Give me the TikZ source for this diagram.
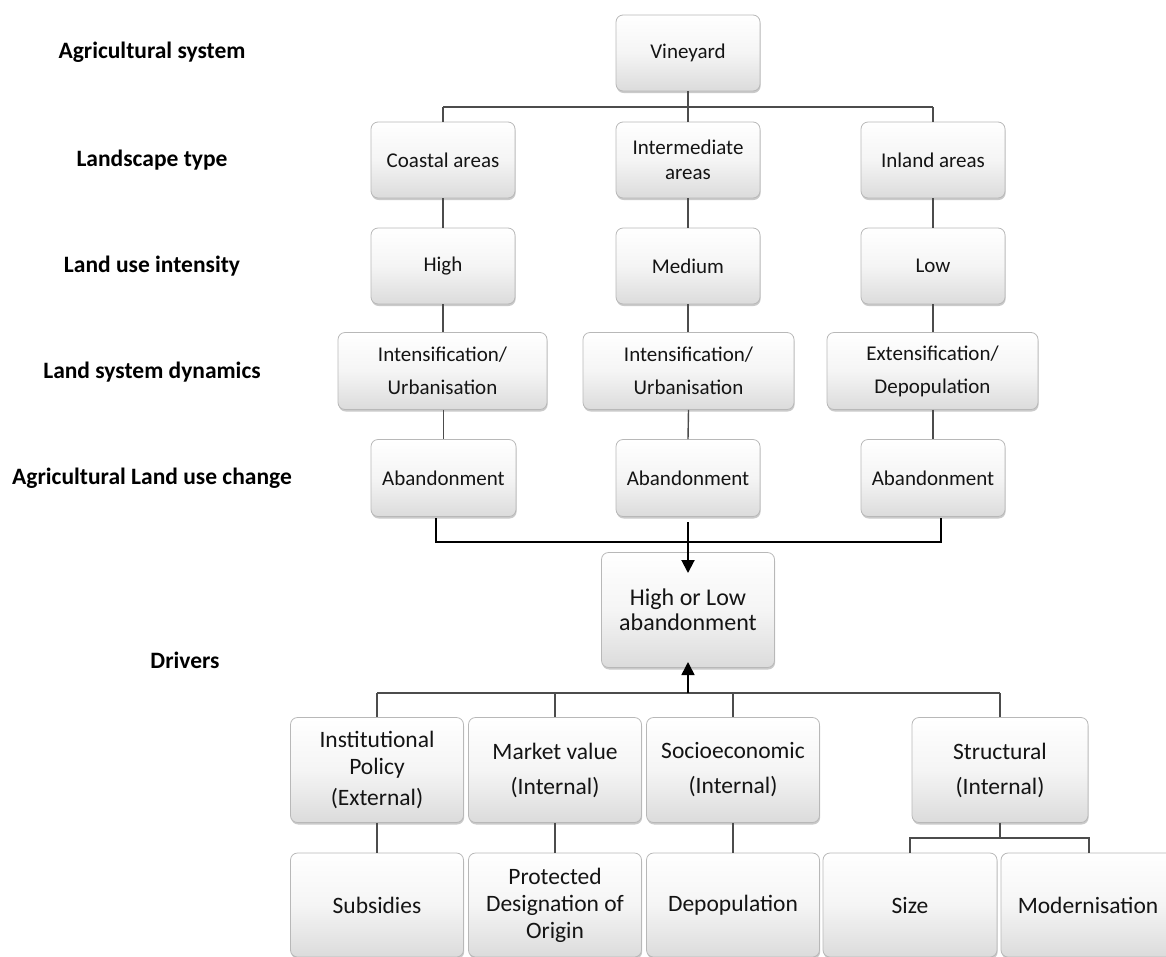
\documentclass[tikz,border=0pt]{standalone}
\usepackage{fontspec}
\setmainfont{Carlito}
\usetikzlibrary{shadows,arrows.meta}
\begin{document}
\begin{tikzpicture}[x=1pt,y=-1pt,
  box/.style={draw=black!28, line width=0.8pt, rounded corners=7pt,
    top color=white, bottom color=black!14, middle color=white!96!black,
    drop shadow={opacity=0.35, shadow xshift=0.6pt, shadow yshift=-2pt, fill=black!60},
    inner sep=0pt, align=center, text=black!92},
  small/.style={box, font=\fontsize{21}{25}\selectfont},
  big/.style={box, font=\fontsize{23.5}{27}\selectfont},
  lab/.style={font=\bfseries\fontsize{23.5}{27}\selectfont, text=black, inner sep=0pt},
  conn/.style={draw=black!70, line width=1.4pt},
  thick/.style={draw=black, line width=2.6pt},
  arr/.style={draw=black, line width=2pt, -{Triangle[length=13pt,width=13pt]}}
]
\useasboundingbox (0,0) rectangle (1166,956);

% left labels
\node[lab] (l1) at (152,52) {Agricultural system};
\node[lab] (l2) at (152,160) {Landscape type};
\node[lab] (l3) at (152,266) {Land use intensity};
\node[lab] (l4) at (152,372) {Land system dynamics};
\node[lab] (l5) at (152,478) {Agricultural Land use change};
\node[lab] (l6) at (185,660) {Drivers};

% top tree
\node[small, minimum width=144pt, minimum height=76pt] (vine) at (688,53) {Vineyard};
\node[small, minimum width=144pt, minimum height=76pt] (coast) at (443,160) {Coastal areas};
\node[small, minimum width=144pt, minimum height=76pt] (inter) at (688,160) {Intermediate\\areas};
\node[small, minimum width=144pt, minimum height=76pt] (inland) at (933,160) {Inland areas};

\node[small, minimum width=144pt, minimum height=76pt] (high) at (443,266) {High};
\node[small, minimum width=144pt, minimum height=76pt] (med) at (688,266) {Medium};
\node[small, minimum width=144pt, minimum height=76pt] (low) at (933,266) {Low};

\node[small, minimum width=209pt, minimum height=77pt, font=\fontsize{21}{33}\selectfont] (dyn1) at (442.5,371) {Intensification/\\Urbanisation};
\node[small, minimum width=211pt, minimum height=77pt, font=\fontsize{21}{33}\selectfont] (dyn2) at (688.5,371) {Intensification/\\Urbanisation};
\node[small, minimum width=211pt, minimum height=77pt, font=\fontsize{21}{33}\selectfont] (dyn3) at (932.5,371) {Extensification/\\Depopulation};

\node[small, minimum width=145pt, minimum height=77pt] (ab1) at (443.5,478) {Abandonment};
\node[small, minimum width=144pt, minimum height=77pt] (ab2) at (688,478) {Abandonment};
\node[small, minimum width=144pt, minimum height=77pt] (ab3) at (933,478) {Abandonment};

% outcome
\node[big, minimum width=173pt, minimum height=115pt, font=\fontsize{24}{25}\selectfont] (hl) at (688,610) {High or Low\\abandonment};

% drivers
\node[big, minimum width=173pt, minimum height=105pt, font=\fontsize{23.5}{31}\selectfont] (inst) at (377,770) {Institutional\\[-4pt]Policy\\(External)};
\node[big, minimum width=173pt, minimum height=105pt, font=\fontsize{23.5}{35}\selectfont] (market) at (555,770) {Market value\\(Internal)};
\node[big, minimum width=173pt, minimum height=105pt, font=\fontsize{23.5}{35}\selectfont] (socio) at (733,770) {Socioeconomic\\(Internal)};
\node[big, minimum width=176pt, minimum height=105pt, font=\fontsize{23.5}{35}\selectfont] (struct) at (1000,770) {Structural\\(Internal)};

% bottom row
\node[big, minimum width=173pt, minimum height=104pt] (sub) at (377,905) {Subsidies};
\node[big, minimum width=173pt, minimum height=104pt, font=\fontsize{23.5}{27}\selectfont] (pdo) at (555,905) {Protected\\Designation of\\Origin};
\node[big, minimum width=173pt, minimum height=104pt] (depop) at (733,905) {Depopulation};
\node[big, minimum width=174pt, minimum height=104pt] (size) at (910,905) {Size};
\node[big, minimum width=174pt, minimum height=104pt] (mod) at (1088,905) {Modernisation};

% connectors top
\coordinate (t1) at (443,107);
\coordinate (t3) at (933,107);
\draw[conn] (vine.south) -- (inter.north);
\draw[conn] (t1) -- (t3);
\draw[conn] (t1) -- (coast.north);
\draw[conn] (t3) -- (inland.north);
\draw[conn] (coast.south) -- (high.north);
\draw[conn] (inter.south) -- (med.north);
\draw[conn] (inland.south) -- (low.north);
\draw[conn] (high.south) -- (high.south |- dyn1.north);
\draw[conn] (med.south) -- (med.south |- dyn2.north);
\draw[conn] (low.south) -- (low.south |- dyn3.north);
\draw[conn] (ab1.north |- dyn1.south) -- (ab1.north);
\draw[conn] (dyn2.south) -- (ab2.north);
\draw[conn] (ab3.north |- dyn3.south) -- (ab3.north);

% bracket and arrows
\coordinate (b1) at (436,542);
\coordinate (b3) at (941,542);
\coordinate (bm) at (688,522);
\coordinate (ht) at (688,573);
\draw[thick] (436,518) -- (b1) -- (b3) -- (941,518);
\draw[arr] (bm) -- (ht);

\coordinate (d0) at (688,693);
\coordinate (hb) at (688,662);
\draw[conn] (377,693) -- (1000,693);
\draw[arr, line width=1.6pt] (d0) -- (hb);
\draw[conn] (inst.north |- d0) -- (inst.north);
\draw[conn] (market.north |- d0) -- (market.north);
\draw[conn] (socio.north |- d0) -- (socio.north);
\draw[conn] (struct.north |- d0) -- (struct.north);

\draw[conn] (inst.south) -- (sub.north);
\draw[conn] (market.south) -- (pdo.north);
\draw[conn] (socio.south) -- (depop.north);
\coordinate (s0) at (1000,838);
\draw[conn] (struct.south) -- (s0);
\draw[conn] (size.north) -- (910,838) -- (1089,838) -- (1089,853);
\end{tikzpicture}
\end{document}
